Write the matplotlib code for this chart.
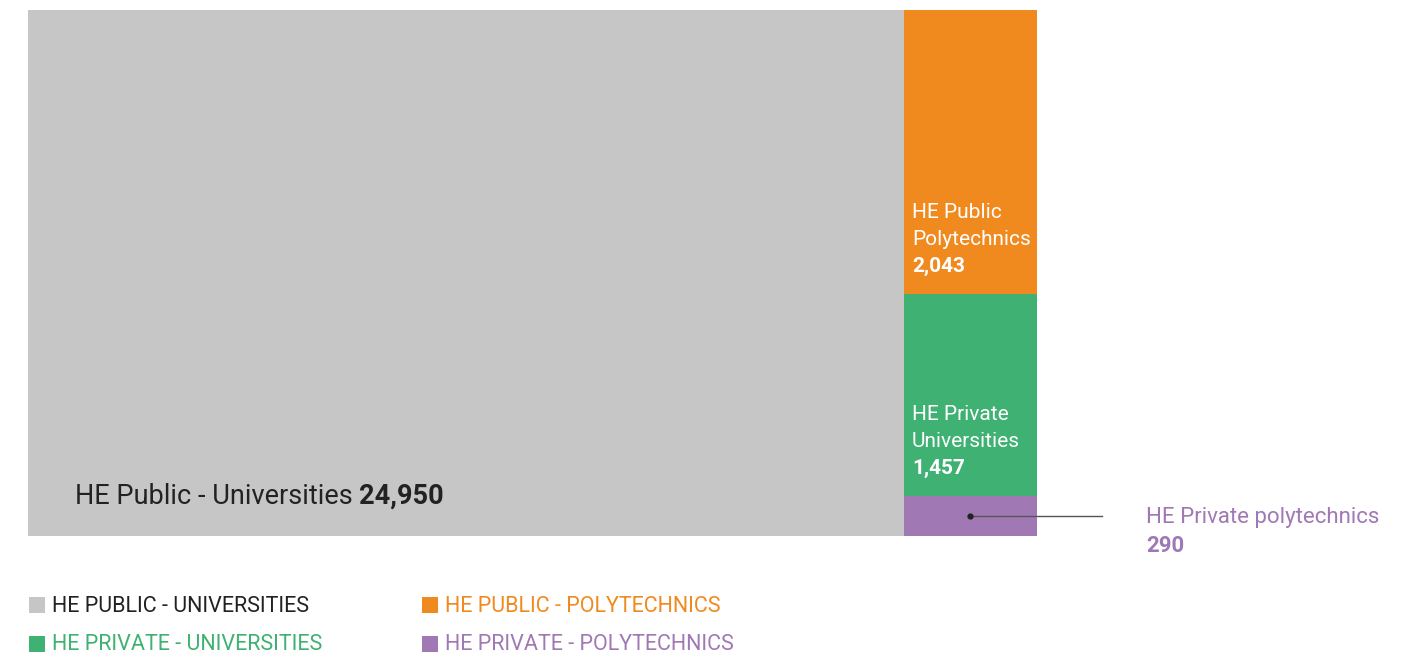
import matplotlib.pyplot as plt
from matplotlib.patches import Rectangle

# ===================== Data =====================

categories = ["HE Public - Universities", "HE Public Polytechnics",
              "HE Private Universities", "HE Private polytechnics"]
label_lines = [["HE Public - Universities"], ["HE Public", "Polytechnics"],
               ["HE Private", "Universities"], ["HE Private polytechnics"]]
legend_labels = ["HE PUBLIC - UNIVERSITIES", "HE PUBLIC - POLYTECHNICS",
                 "HE PRIVATE - UNIVERSITIES", "HE PRIVATE - POLYTECHNICS"]
values = [24950, 2043, 1457, 290]

colors = ["#C6C6C6", "#F08A1E", "#3FB172", "#A078B4"]
legend_text_colors = ["#222222", "#F08A1E", "#3FB172", "#A078B4"]

plt.rcParams["font.family"] = ["Roboto", "DejaVu Sans"]

W, H = 1414, 657
PX = 0.72  # points per pixel at dpi 100

fig = plt.figure(figsize=(W / 100, H / 100), dpi=100)
ax = fig.add_axes([28 / W, (H - 536) / H, 1009 / W, 526 / H])
ax.set_xlim(0, 1)
ax.set_ylim(0, 1)
ax.axis("off")

# ===================== Treemap layout =====================
# big block on the left, the rest stacked in a column on the right
total = sum(values)
rest = sum(values[1:])
w0 = values[0] / total

rects = [(0, 0, w0, 1)]
top = 1.0
for v in values[1:]:
    h = v / rest
    rects.append((w0, top - h, 1 - w0, h))
    top -= h

for (x, y, w, h), c in zip(rects, colors):
    ax.add_patch(Rectangle((x, y), w, h, facecolor=c, edgecolor="none"))

# big block label: normal text + bold value on the same baseline
x, y, w, h = rects[0]
t1 = ax.annotate(label_lines[0][0] + " ", xy=(x, y), xytext=(47 * PX, 32 * PX),
                 textcoords="offset points", fontsize=19.5, color="#222222",
                 va="baseline", ha="left")
ax.annotate(f"{values[0]:,}", xy=(1, 0), xycoords=t1, fontsize=19.5,
            fontweight="bold", color="#222222", va="bottom", ha="left")

# right-column labels (white, bottom-left anchored)
for i in (1, 2):
    x, y, w, h = rects[i]
    lines = label_lines[i]
    ax.annotate(f"{values[i]:,}", xy=(x, y), xytext=(8 * PX, 22 * PX),
                textcoords="offset points", fontsize=15, fontweight="bold",
                color="white", va="baseline", ha="left")
    for k, line in enumerate(reversed(lines)):
        ax.annotate(line, xy=(x, y), xytext=(8 * PX, (49 + 27 * k) * PX),
                    textcoords="offset points", fontsize=15,
                    color="white", va="baseline", ha="left")

# small block: callout outside
x, y, w, h = rects[3]
cx, cy = x + w / 2, y + h / 2
ax.plot([cx, 1 + 65 / 1009], [cy, cy], color="#555555", lw=1, clip_on=False)
ax.plot(cx, cy, "o", color="#222222", ms=3.5, clip_on=False)
ax.annotate(label_lines[3][0], xy=(cx, cy), xytext=((1126 - 950) * PX, -7 * PX),
            textcoords="offset points", fontsize=16, color=colors[3],
            va="baseline", ha="left", annotation_clip=False)
ax.annotate(f"{values[3]:,}", xy=(cx, cy), xytext=((1126 - 950) * PX, -36 * PX),
            textcoords="offset points", fontsize=16, fontweight="bold",
            color=colors[3], va="baseline", ha="left", annotation_clip=False)

# ===================== Legend =====================
legend_pos = [(29, 605), (422, 605), (29, 644), (422, 644)]
for (lx, ly), lab, c, tc in zip(legend_pos, legend_labels, colors, legend_text_colors):
    fig.patches.append(Rectangle((lx / W, (H - ly - 8) / H), 16 / W, 16 / H,
                                 facecolor=c, edgecolor="none",
                                 transform=fig.transFigure, figure=fig))
    fig.text((lx + 23) / W, (H - ly - 1) / H, lab, fontsize=15.5, color=tc,
             va="center", ha="left")

fig.savefig("out.png", dpi=100, facecolor="white")
